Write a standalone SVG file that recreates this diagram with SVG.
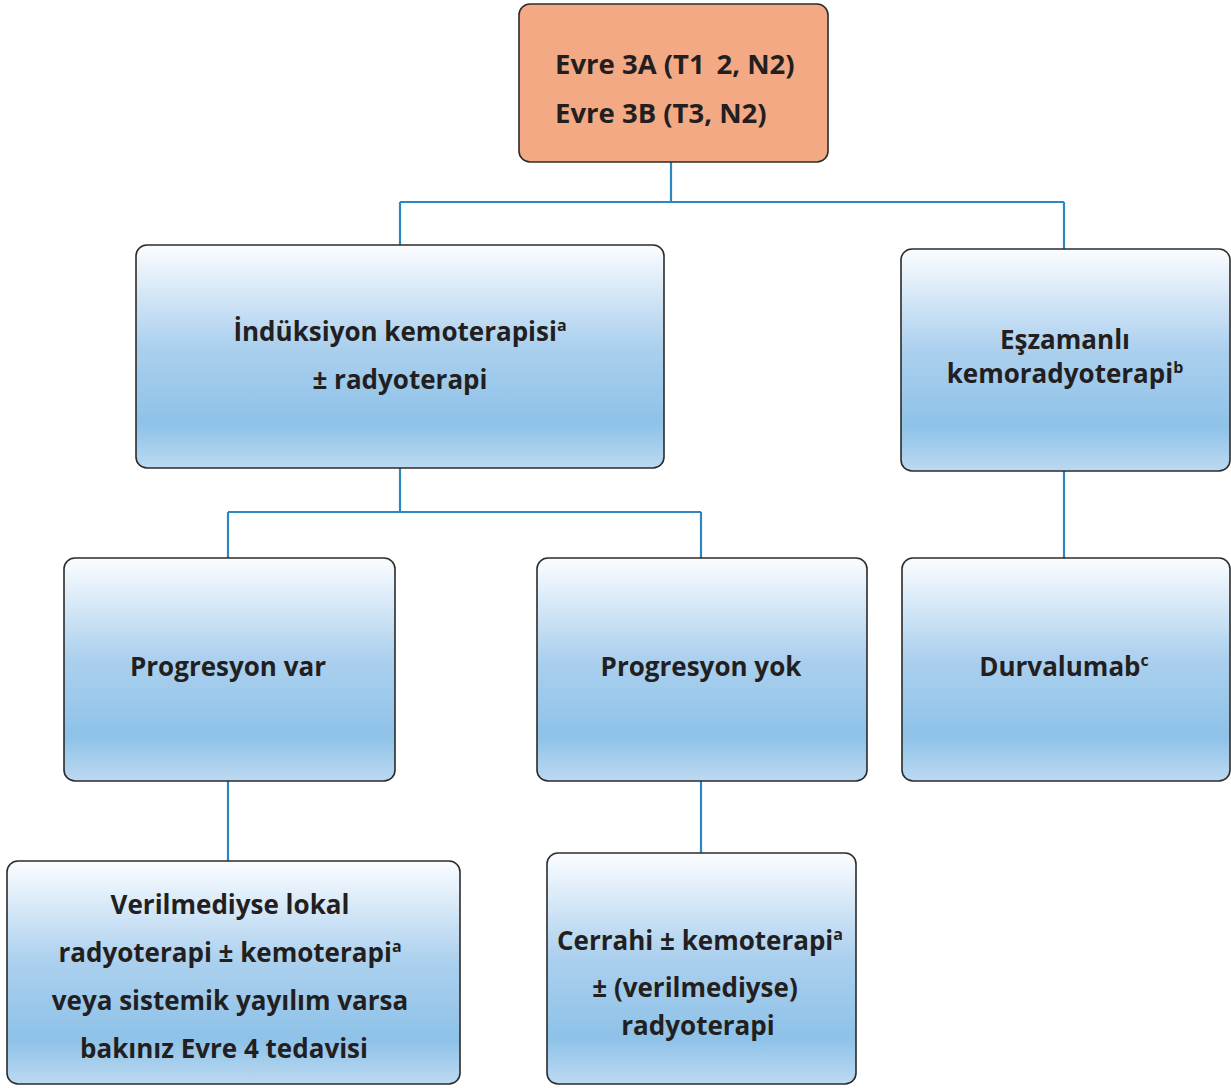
<svg xmlns="http://www.w3.org/2000/svg" width="1231" height="1088" viewBox="0 0 1231 1088">
  <defs>
    <linearGradient id="blueFill" x1="0" y1="0" x2="0" y2="1">
      <stop offset="0" stop-color="#fbfdff"/>
      <stop offset="0.45" stop-color="#acd0ee"/>
      <stop offset="0.8" stop-color="#8ec2e8"/>
      <stop offset="1" stop-color="#bcd9f1"/>
    </linearGradient>
    <style>
      .box { fill: url(#blueFill); stroke: #2b2b2b; stroke-width: 1.6; }
      .top { fill: #f4a985; stroke: #2b2b2b; stroke-width: 1.6; }
      .lbl { font-family: "Open Sans", Lato, "Liberation Sans", sans-serif; font-weight: bold; font-size: 26px; fill: #231f20; }
      .big { font-size: 27.5px; }
      .mid { text-anchor: middle; }
      .sup { font-size: 16px; }
      .wire { fill: none; stroke: #2c86c0; stroke-width: 2.2; }
    </style>
  </defs>

  <!-- connectors -->
  <g id="connectors">
    <path class="wire" d="M671 162 V202 M400 202 H1064 M400 202 V245 M1064 202 V249"/>
    <path class="wire" d="M400 468 V512 M228 512 H701 M228 512 V558 M701 512 V558"/>
    <path class="wire" d="M1064 471 V558"/>
    <path class="wire" d="M228 781 V861"/>
    <path class="wire" d="M701 781 V853"/>
  </g>

  <g id="stage">
    <rect class="top" x="519" y="4" width="309" height="158" rx="11"/>
    <text class="lbl big" x="555" y="74">Evre 3A (T1 &#8201;2, N2)</text>
    <text class="lbl big" x="555" y="123">Evre 3B (T3, N2)</text>
  </g>

  <g id="induction">
    <rect class="box" x="136" y="245" width="528" height="223" rx="11"/>
    <text class="lbl mid" x="400" y="341">İndüksiyon kemoterapisi<tspan class="sup" dy="-10">a</tspan></text>
    <text class="lbl mid" x="400" y="389">± radyoterapi</text>
  </g>

  <g id="concurrent">
    <rect class="box" x="901" y="249" width="329" height="222" rx="11"/>
    <text class="lbl mid" x="1065" y="349">Eşzamanlı</text>
    <text class="lbl mid" x="1065" y="383">kemoradyoterapi<tspan class="sup" dy="-10">b</tspan></text>
  </g>

  <g id="progression">
    <rect class="box" x="64" y="558" width="331" height="223" rx="11"/>
    <text class="lbl mid" x="228" y="676">Progresyon var</text>
  </g>

  <g id="no-progression">
    <rect class="box" x="537" y="558" width="330" height="223" rx="11"/>
    <text class="lbl mid" x="701" y="676">Progresyon yok</text>
  </g>

  <g id="durvalumab">
    <rect class="box" x="902" y="558" width="328" height="223" rx="11"/>
    <text class="lbl mid" x="1064" y="676">Durvalumab<tspan class="sup" dy="-10">c</tspan></text>
  </g>

  <g id="local-therapy">
    <rect class="box" x="7" y="861" width="453" height="223" rx="11"/>
    <text class="lbl mid" x="230" y="914">Verilmediyse lokal</text>
    <text class="lbl mid" x="230" y="962">radyoterapi ± kemoterapi<tspan class="sup" dy="-10">a</tspan></text>
    <text class="lbl mid" x="230" y="1010">veya sistemik yayılım varsa</text>
    <text class="lbl mid" x="224" y="1058">bakınız Evre 4 tedavisi</text>
  </g>

  <g id="surgery">
    <rect class="box" x="547" y="853" width="309" height="231" rx="11"/>
    <text class="lbl mid" x="700" y="950">Cerrahi ± kemoterapi<tspan class="sup" dy="-10">a</tspan></text>
    <text class="lbl mid" x="695" y="997">± (verilmediyse)</text>
    <text class="lbl mid" x="698" y="1035">radyoterapi</text>
  </g>
</svg>
